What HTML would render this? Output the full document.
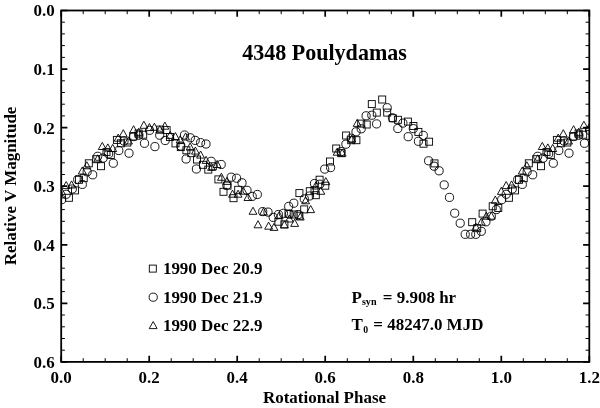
<!DOCTYPE html>
<html><head><meta charset="utf-8"><title>4348 Poulydamas</title>
<style>
html,body{margin:0;padding:0;background:#fff;}
body{width:600px;height:408px;overflow:hidden;}
svg{display:block;filter:blur(0.35px);}
text{font-family:"Liberation Serif","Times New Roman",serif;font-weight:bold;fill:#000;}
.t{font-size:17px;}
.m{fill:none;stroke:#000;stroke-width:0.9;}
</style></head><body>
<svg width="600" height="408" viewBox="0 0 600 408">
<rect width="600" height="408" fill="#fff"/>
<defs><clipPath id="c"><rect x="61.2" y="10.5" width="528.1" height="351.4"/></clipPath></defs>

<path d="M83.2 361.9v-3.7M83.2 10.5v3.7M105.2 361.9v-3.7M105.2 10.5v3.7M127.2 361.9v-3.7M127.2 10.5v3.7M171.2 361.9v-3.7M171.2 10.5v3.7M193.2 361.9v-3.7M193.2 10.5v3.7M215.2 361.9v-3.7M215.2 10.5v3.7M259.2 361.9v-3.7M259.2 10.5v3.7M281.2 361.9v-3.7M281.2 10.5v3.7M303.2 361.9v-3.7M303.2 10.5v3.7M347.3 361.9v-3.7M347.3 10.5v3.7M369.3 361.9v-3.7M369.3 10.5v3.7M391.3 361.9v-3.7M391.3 10.5v3.7M435.3 361.9v-3.7M435.3 10.5v3.7M457.3 361.9v-3.7M457.3 10.5v3.7M479.3 361.9v-3.7M479.3 10.5v3.7M523.3 361.9v-3.7M523.3 10.5v3.7M545.3 361.9v-3.7M545.3 10.5v3.7M567.3 361.9v-3.7M567.3 10.5v3.7M61.2 22.2h3.7M589.3 22.2h-3.7M61.2 33.9h3.7M589.3 33.9h-3.7M61.2 45.6h3.7M589.3 45.6h-3.7M61.2 57.4h3.7M589.3 57.4h-3.7M61.2 80.8h3.7M589.3 80.8h-3.7M61.2 92.5h3.7M589.3 92.5h-3.7M61.2 104.2h3.7M589.3 104.2h-3.7M61.2 115.9h3.7M589.3 115.9h-3.7M61.2 139.3h3.7M589.3 139.3h-3.7M61.2 151.1h3.7M589.3 151.1h-3.7M61.2 162.8h3.7M589.3 162.8h-3.7M61.2 174.5h3.7M589.3 174.5h-3.7M61.2 197.9h3.7M589.3 197.9h-3.7M61.2 209.6h3.7M589.3 209.6h-3.7M61.2 221.3h3.7M589.3 221.3h-3.7M61.2 233.1h3.7M589.3 233.1h-3.7M61.2 256.5h3.7M589.3 256.5h-3.7M61.2 268.2h3.7M589.3 268.2h-3.7M61.2 279.9h3.7M589.3 279.9h-3.7M61.2 291.6h3.7M589.3 291.6h-3.7M61.2 315.0h3.7M589.3 315.0h-3.7M61.2 326.8h3.7M589.3 326.8h-3.7M61.2 338.5h3.7M589.3 338.5h-3.7M61.2 350.2h3.7M589.3 350.2h-3.7" stroke="#000" stroke-width="1" fill="none"/>
<path d="M61.2 361.9v-6.2M61.2 10.5v6.2M149.2 361.9v-6.2M149.2 10.5v6.2M237.2 361.9v-6.2M237.2 10.5v6.2M325.2 361.9v-6.2M325.2 10.5v6.2M413.3 361.9v-6.2M413.3 10.5v6.2M501.3 361.9v-6.2M501.3 10.5v6.2M589.3 361.9v-6.2M589.3 10.5v6.2M61.2 10.5h6.2M589.3 10.5h-6.2M61.2 69.1h6.2M589.3 69.1h-6.2M61.2 127.6h6.2M589.3 127.6h-6.2M61.2 186.2h6.2M589.3 186.2h-6.2M61.2 244.8h6.2M589.3 244.8h-6.2M61.2 303.3h6.2M589.3 303.3h-6.2M61.2 361.9h6.2M589.3 361.9h-6.2" stroke="#000" stroke-width="1.7" fill="none"/>
<rect x="61.2" y="10.5" width="528.1" height="351.4" fill="none" stroke="#000" stroke-width="1.8"/>
<text transform="translate(61.2,382.6) scale(0.957,1)" text-anchor="middle" style="font-size:17.75px">0.0</text>
<text transform="translate(149.2,382.6) scale(0.957,1)" text-anchor="middle" style="font-size:17.75px">0.2</text>
<text transform="translate(237.2,382.6) scale(0.957,1)" text-anchor="middle" style="font-size:17.75px">0.4</text>
<text transform="translate(325.2,382.6) scale(0.957,1)" text-anchor="middle" style="font-size:17.75px">0.6</text>
<text transform="translate(413.3,382.6) scale(0.957,1)" text-anchor="middle" style="font-size:17.75px">0.8</text>
<text transform="translate(501.3,382.6) scale(0.957,1)" text-anchor="middle" style="font-size:17.75px">1.0</text>
<text transform="translate(589.3,382.6) scale(0.957,1)" text-anchor="middle" style="font-size:17.75px">1.2</text>
<text transform="translate(54.8,16.4) scale(0.957,1)" text-anchor="end" style="font-size:17.75px">0.0</text>
<text transform="translate(54.8,75.0) scale(0.957,1)" text-anchor="end" style="font-size:17.75px">0.1</text>
<text transform="translate(54.8,133.5) scale(0.957,1)" text-anchor="end" style="font-size:17.75px">0.2</text>
<text transform="translate(54.8,192.1) scale(0.957,1)" text-anchor="end" style="font-size:17.75px">0.3</text>
<text transform="translate(54.8,250.7) scale(0.957,1)" text-anchor="end" style="font-size:17.75px">0.4</text>
<text transform="translate(54.8,309.2) scale(0.957,1)" text-anchor="end" style="font-size:17.75px">0.5</text>
<text transform="translate(54.8,367.8) scale(0.957,1)" text-anchor="end" style="font-size:17.75px">0.6</text>
<text transform="translate(324.5,59.9) scale(0.963,1)" text-anchor="middle" style="font-size:22.9px">4348 Poulydamas</text>
<text transform="translate(324.5,403.2) scale(0.957,1)" text-anchor="middle" style="font-size:17.75px">Rotational Phase</text>
<text transform="translate(15.6,186.0) rotate(-90) scale(0.957,1)" text-anchor="middle" style="font-size:17.75px">Relative V Magnitude</text>
<text transform="translate(162.9,274.2) scale(0.957,1)" text-anchor="start" style="font-size:17.75px">1990 Dec 20.9</text>
<text transform="translate(162.9,302.6) scale(0.957,1)" text-anchor="start" style="font-size:17.75px">1990 Dec 21.9</text>
<text transform="translate(162.9,330.7) scale(0.957,1)" text-anchor="start" style="font-size:17.75px">1990 Dec 22.9</text>
<text transform="translate(351.6,302.5) scale(0.957,1)" text-anchor="start" style="font-size:17.75px">P</text><text transform="translate(361.9,304.9) scale(0.957,1)" text-anchor="start" style="font-size:10.6px">syn</text><text transform="translate(382.8,302.5) scale(0.957,1)" text-anchor="start" style="font-size:17.75px">= 9.908 hr</text>
<text transform="translate(351.6,330.4) scale(0.957,1)" text-anchor="start" style="font-size:17.75px">T</text><text transform="translate(363.3,333.2) scale(0.957,1)" text-anchor="start" style="font-size:10.2px">0</text><text transform="translate(373.3,330.4) scale(0.957,1)" text-anchor="start" style="font-size:17.75px">= 48247.0 MJD</text>
<g class="m">
<rect x="149.3" y="265.1" width="7.0" height="7.0"/>
<circle cx="153.2" cy="297.2" r="4.1"/>
<path d="M149.2 328.6L153.2 321.5L157.1 328.6Z"/>
</g>
<g class="m" clip-path="url(#c)">
<rect x="65.4" y="194.3" width="7.0" height="7.0"/>
<rect x="71.5" y="186.9" width="7.0" height="7.0"/>
<rect x="75.5" y="176.3" width="7.0" height="7.0"/>
<rect x="80.2" y="174.7" width="7.0" height="7.0"/>
<rect x="85.3" y="159.8" width="7.0" height="7.0"/>
<rect x="92.7" y="155.7" width="7.0" height="7.0"/>
<rect x="97.5" y="162.7" width="7.0" height="7.0"/>
<rect x="103.0" y="148.6" width="7.0" height="7.0"/>
<rect x="107.3" y="151.5" width="7.0" height="7.0"/>
<rect x="113.4" y="136.4" width="7.0" height="7.0"/>
<rect x="117.4" y="139.8" width="7.0" height="7.0"/>
<rect x="123.9" y="139.0" width="7.0" height="7.0"/>
<rect x="129.7" y="133.0" width="7.0" height="7.0"/>
<rect x="135.1" y="130.0" width="7.0" height="7.0"/>
<rect x="139.7" y="131.2" width="7.0" height="7.0"/>
<rect x="156.7" y="126.1" width="7.0" height="7.0"/>
<rect x="163.1" y="126.6" width="7.0" height="7.0"/>
<rect x="166.5" y="133.5" width="7.0" height="7.0"/>
<rect x="172.0" y="139.9" width="7.0" height="7.0"/>
<rect x="177.3" y="143.6" width="7.0" height="7.0"/>
<rect x="182.9" y="146.8" width="7.0" height="7.0"/>
<rect x="187.8" y="149.7" width="7.0" height="7.0"/>
<rect x="193.5" y="156.0" width="7.0" height="7.0"/>
<rect x="199.5" y="161.3" width="7.0" height="7.0"/>
<rect x="204.8" y="166.1" width="7.0" height="7.0"/>
<rect x="209.3" y="162.8" width="7.0" height="7.0"/>
<rect x="214.9" y="175.9" width="7.0" height="7.0"/>
<rect x="220.0" y="188.3" width="7.0" height="7.0"/>
<rect x="224.0" y="182.1" width="7.0" height="7.0"/>
<rect x="230.0" y="194.7" width="7.0" height="7.0"/>
<rect x="234.7" y="186.3" width="7.0" height="7.0"/>
<rect x="274.9" y="218.2" width="7.0" height="7.0"/>
<rect x="280.9" y="220.9" width="7.0" height="7.0"/>
<rect x="285.0" y="210.2" width="7.0" height="7.0"/>
<rect x="290.2" y="211.0" width="7.0" height="7.0"/>
<rect x="295.9" y="212.2" width="7.0" height="7.0"/>
<rect x="300.7" y="205.9" width="7.0" height="7.0"/>
<rect x="295.9" y="189.6" width="7.0" height="7.0"/>
<rect x="306.3" y="187.7" width="7.0" height="7.0"/>
<rect x="312.3" y="191.7" width="7.0" height="7.0"/>
<rect x="311.0" y="186.7" width="7.0" height="7.0"/>
<rect x="316.1" y="176.2" width="7.0" height="7.0"/>
<rect x="321.8" y="182.2" width="7.0" height="7.0"/>
<rect x="326.5" y="158.0" width="7.0" height="7.0"/>
<rect x="332.7" y="145.0" width="7.0" height="7.0"/>
<rect x="337.7" y="149.7" width="7.0" height="7.0"/>
<rect x="342.6" y="132.0" width="7.0" height="7.0"/>
<rect x="347.7" y="136.7" width="7.0" height="7.0"/>
<rect x="352.9" y="136.7" width="7.0" height="7.0"/>
<rect x="357.7" y="120.1" width="7.0" height="7.0"/>
<rect x="363.2" y="121.0" width="7.0" height="7.0"/>
<rect x="368.3" y="100.6" width="7.0" height="7.0"/>
<rect x="373.3" y="109.1" width="7.0" height="7.0"/>
<rect x="378.7" y="96.0" width="7.0" height="7.0"/>
<rect x="383.7" y="109.1" width="7.0" height="7.0"/>
<rect x="389.2" y="114.7" width="7.0" height="7.0"/>
<rect x="394.4" y="116.3" width="7.0" height="7.0"/>
<rect x="404.4" y="118.1" width="7.0" height="7.0"/>
<rect x="409.9" y="122.5" width="7.0" height="7.0"/>
<rect x="414.9" y="128.4" width="7.0" height="7.0"/>
<rect x="420.0" y="140.2" width="7.0" height="7.0"/>
<rect x="425.6" y="138.2" width="7.0" height="7.0"/>
<rect x="431.0" y="159.9" width="7.0" height="7.0"/>
<rect x="468.7" y="218.7" width="7.0" height="7.0"/>
<rect x="473.7" y="224.7" width="7.0" height="7.0"/>
<rect x="479.1" y="210.1" width="7.0" height="7.0"/>
<rect x="489.2" y="202.8" width="7.0" height="7.0"/>
<rect x="494.8" y="204.5" width="7.0" height="7.0"/>
<rect x="505.4" y="194.3" width="7.0" height="7.0"/>
<rect x="511.5" y="186.9" width="7.0" height="7.0"/>
<rect x="515.5" y="176.3" width="7.0" height="7.0"/>
<rect x="520.2" y="174.7" width="7.0" height="7.0"/>
<rect x="525.3" y="159.8" width="7.0" height="7.0"/>
<rect x="532.7" y="155.7" width="7.0" height="7.0"/>
<rect x="537.5" y="162.7" width="7.0" height="7.0"/>
<rect x="543.0" y="148.6" width="7.0" height="7.0"/>
<rect x="547.3" y="151.5" width="7.0" height="7.0"/>
<rect x="553.4" y="136.4" width="7.0" height="7.0"/>
<rect x="557.4" y="139.8" width="7.0" height="7.0"/>
<rect x="563.9" y="139.0" width="7.0" height="7.0"/>
<rect x="569.7" y="133.0" width="7.0" height="7.0"/>
<rect x="575.1" y="130.0" width="7.0" height="7.0"/>
<rect x="579.7" y="131.2" width="7.0" height="7.0"/>
<path d="M57.3 194.4L61.3 187.3L65.2 194.4Z"/>
<path d="M62.2 188.6L66.2 181.5L70.2 188.6Z"/>
<path d="M67.6 188.0L71.6 180.9L75.5 188.0Z"/>
<path d="M78.3 174.0L82.3 166.9L86.2 174.0Z"/>
<path d="M82.8 168.8L86.8 161.7L90.8 168.8Z"/>
<path d="M93.8 161.9L97.7 154.8L101.7 161.9Z"/>
<path d="M98.3 149.5L102.3 142.4L106.2 149.5Z"/>
<path d="M103.8 151.0L107.8 143.9L111.8 151.0Z"/>
<path d="M108.8 151.5L112.7 144.4L116.7 151.5Z"/>
<path d="M114.2 141.2L118.2 134.1L122.2 141.2Z"/>
<path d="M119.3 136.8L123.3 129.7L127.2 136.8Z"/>
<path d="M124.5 144.0L128.5 136.9L132.4 144.0Z"/>
<path d="M129.7 132.8L133.6 125.7L137.5 132.8Z"/>
<path d="M134.8 135.3L138.7 128.2L142.6 135.3Z"/>
<path d="M140.0 128.3L143.9 121.2L147.8 128.3Z"/>
<path d="M145.5 130.6L149.4 123.5L153.3 130.6Z"/>
<path d="M150.5 130.3L154.4 123.2L158.3 130.3Z"/>
<path d="M155.9 132.8L159.8 125.7L163.8 132.8Z"/>
<path d="M161.0 129.2L164.9 122.1L168.8 129.2Z"/>
<path d="M166.2 138.4L170.2 131.3L174.1 138.4Z"/>
<path d="M171.5 139.6L175.4 132.5L179.3 139.6Z"/>
<path d="M176.2 142.9L180.1 135.8L184.0 142.9Z"/>
<path d="M181.7 140.0L185.6 132.9L189.5 140.0Z"/>
<path d="M186.2 150.1L190.1 143.0L194.0 150.1Z"/>
<path d="M191.5 154.1L195.4 147.0L199.3 154.1Z"/>
<path d="M196.7 158.1L200.6 151.0L204.5 158.1Z"/>
<path d="M202.2 163.4L206.1 156.3L210.0 163.4Z"/>
<path d="M207.6 170.4L211.5 163.3L215.4 170.4Z"/>
<path d="M213.2 167.5L217.2 160.4L221.1 167.5Z"/>
<path d="M217.5 180.3L221.4 173.2L225.3 180.3Z"/>
<path d="M223.1 184.4L227.0 177.3L230.9 184.4Z"/>
<path d="M228.6 197.2L232.5 190.1L236.4 197.2Z"/>
<path d="M234.2 197.2L238.1 190.1L242.0 197.2Z"/>
<path d="M239.2 194.2L243.2 187.1L247.1 194.2Z"/>
<path d="M244.0 200.5L247.9 193.4L251.8 200.5Z"/>
<path d="M249.1 214.3L253.0 207.2L256.9 214.3Z"/>
<path d="M254.1 227.8L258.0 220.7L261.9 227.8Z"/>
<path d="M259.6 215.0L263.5 207.9L267.4 215.0Z"/>
<path d="M264.7 229.2L268.6 222.1L272.6 229.2Z"/>
<path d="M270.1 230.4L274.0 223.3L277.9 230.4Z"/>
<path d="M275.2 218.7L279.2 211.6L283.1 218.7Z"/>
<path d="M280.4 227.9L284.3 220.8L288.2 227.9Z"/>
<path d="M285.4 222.0L289.4 214.9L293.3 222.0Z"/>
<path d="M290.7 226.4L294.6 219.3L298.6 226.4Z"/>
<path d="M296.4 220.0L300.3 212.9L304.2 220.0Z"/>
<path d="M301.7 203.8L305.6 196.7L309.6 203.8Z"/>
<path d="M306.8 212.6L310.7 205.5L314.6 212.6Z"/>
<path d="M311.9 189.0L315.8 181.9L319.8 189.0Z"/>
<path d="M316.9 194.3L320.8 187.2L324.8 194.3Z"/>
<path d="M321.9 184.7L325.8 177.6L329.8 184.7Z"/>
<path d="M333.2 155.2L337.2 148.1L341.1 155.2Z"/>
<path d="M338.2 156.2L342.2 149.1L346.1 156.2Z"/>
<path d="M347.9 142.1L351.9 135.0L355.8 142.1Z"/>
<path d="M353.2 126.4L357.2 119.3L361.1 126.4Z"/>
<path d="M471.9 230.2L475.8 223.1L479.8 230.2Z"/>
<path d="M477.4 225.2L481.3 218.1L485.2 225.2Z"/>
<path d="M482.4 219.2L486.3 212.1L490.2 219.2Z"/>
<path d="M487.4 219.2L491.3 212.1L495.2 219.2Z"/>
<path d="M491.4 203.2L495.3 196.1L499.2 203.2Z"/>
<path d="M497.4 194.4L501.3 187.3L505.2 194.4Z"/>
<path d="M502.2 188.6L506.2 181.5L510.1 188.6Z"/>
<path d="M507.7 188.0L511.6 180.9L515.6 188.0Z"/>
<path d="M518.3 174.0L522.3 166.9L526.2 174.0Z"/>
<path d="M522.8 168.8L526.8 161.7L530.8 168.8Z"/>
<path d="M533.8 161.9L537.7 154.8L541.7 161.9Z"/>
<path d="M538.3 149.5L542.3 142.4L546.2 149.5Z"/>
<path d="M543.8 151.0L547.8 143.9L551.8 151.0Z"/>
<path d="M548.8 151.5L552.7 144.4L556.7 151.5Z"/>
<path d="M554.2 141.2L558.2 134.1L562.2 141.2Z"/>
<path d="M559.3 136.8L563.3 129.7L567.2 136.8Z"/>
<path d="M564.5 144.0L568.5 136.9L572.5 144.0Z"/>
<path d="M569.6 132.8L573.6 125.7L577.6 132.8Z"/>
<path d="M574.8 135.3L578.7 128.2L582.7 135.3Z"/>
<path d="M579.9 128.3L583.9 121.2L587.9 128.3Z"/>
<path d="M585.4 130.6L589.4 123.5L593.4 130.6Z"/>
<circle cx="61.7" cy="199.6" r="4.1"/>
<circle cx="66.2" cy="194.3" r="4.1"/>
<circle cx="72.3" cy="189.0" r="4.1"/>
<circle cx="77.7" cy="179.5" r="4.1"/>
<circle cx="82.3" cy="184.4" r="4.1"/>
<circle cx="87.1" cy="171.8" r="4.1"/>
<circle cx="92.7" cy="174.8" r="4.1"/>
<circle cx="97.7" cy="156.3" r="4.1"/>
<circle cx="103.1" cy="158.1" r="4.1"/>
<circle cx="108.6" cy="153.9" r="4.1"/>
<circle cx="113.3" cy="163.2" r="4.1"/>
<circle cx="118.8" cy="150.5" r="4.1"/>
<circle cx="124.0" cy="141.0" r="4.1"/>
<circle cx="129.0" cy="153.2" r="4.1"/>
<circle cx="133.5" cy="136.6" r="4.1"/>
<circle cx="138.9" cy="135.2" r="4.1"/>
<circle cx="144.5" cy="143.3" r="4.1"/>
<circle cx="149.6" cy="130.3" r="4.1"/>
<circle cx="154.9" cy="146.6" r="4.1"/>
<circle cx="159.7" cy="135.2" r="4.1"/>
<circle cx="165.2" cy="140.5" r="4.1"/>
<circle cx="180.8" cy="146.0" r="4.1"/>
<circle cx="184.5" cy="135.0" r="4.1"/>
<circle cx="190.3" cy="137.8" r="4.1"/>
<circle cx="195.2" cy="140.4" r="4.1"/>
<circle cx="200.6" cy="142.6" r="4.1"/>
<circle cx="206.0" cy="144.0" r="4.1"/>
<circle cx="186.1" cy="159.0" r="4.1"/>
<circle cx="196.4" cy="169.0" r="4.1"/>
<circle cx="211.2" cy="161.3" r="4.1"/>
<circle cx="221.2" cy="164.5" r="4.1"/>
<circle cx="226.8" cy="185.2" r="4.1"/>
<circle cx="231.2" cy="177.2" r="4.1"/>
<circle cx="236.6" cy="178.2" r="4.1"/>
<circle cx="242.0" cy="182.8" r="4.1"/>
<circle cx="247.0" cy="190.3" r="4.1"/>
<circle cx="252.2" cy="196.4" r="4.1"/>
<circle cx="257.3" cy="194.5" r="4.1"/>
<circle cx="262.7" cy="211.6" r="4.1"/>
<circle cx="268.0" cy="212.1" r="4.1"/>
<circle cx="273.2" cy="217.4" r="4.1"/>
<circle cx="278.4" cy="214.5" r="4.1"/>
<circle cx="283.4" cy="213.3" r="4.1"/>
<circle cx="288.7" cy="206.4" r="4.1"/>
<circle cx="289.4" cy="214.2" r="4.1"/>
<circle cx="293.8" cy="203.2" r="4.1"/>
<circle cx="298.2" cy="214.5" r="4.1"/>
<circle cx="304.3" cy="198.9" r="4.1"/>
<circle cx="309.5" cy="196.0" r="4.1"/>
<circle cx="314.5" cy="183.5" r="4.1"/>
<circle cx="319.8" cy="184.2" r="4.1"/>
<circle cx="324.7" cy="169.1" r="4.1"/>
<circle cx="330.6" cy="167.6" r="4.1"/>
<circle cx="341.1" cy="151.6" r="4.1"/>
<circle cx="345.9" cy="144.2" r="4.1"/>
<circle cx="351.2" cy="138.2" r="4.1"/>
<circle cx="356.0" cy="131.8" r="4.1"/>
<circle cx="361.2" cy="128.8" r="4.1"/>
<circle cx="366.1" cy="115.8" r="4.1"/>
<circle cx="371.8" cy="115.2" r="4.1"/>
<circle cx="376.6" cy="123.9" r="4.1"/>
<circle cx="387.2" cy="107.7" r="4.1"/>
<circle cx="392.4" cy="117.8" r="4.1"/>
<circle cx="397.8" cy="128.5" r="4.1"/>
<circle cx="402.9" cy="123.1" r="4.1"/>
<circle cx="408.2" cy="136.7" r="4.1"/>
<circle cx="413.3" cy="128.6" r="4.1"/>
<circle cx="418.4" cy="141.3" r="4.1"/>
<circle cx="423.3" cy="135.4" r="4.1"/>
<circle cx="428.6" cy="160.8" r="4.1"/>
<circle cx="434.1" cy="166.2" r="4.1"/>
<circle cx="439.1" cy="170.8" r="4.1"/>
<circle cx="444.2" cy="184.9" r="4.1"/>
<circle cx="449.5" cy="197.4" r="4.1"/>
<circle cx="454.7" cy="213.2" r="4.1"/>
<circle cx="460.2" cy="223.2" r="4.1"/>
<circle cx="465.2" cy="234.3" r="4.1"/>
<circle cx="470.6" cy="234.3" r="4.1"/>
<circle cx="475.8" cy="234.3" r="4.1"/>
<circle cx="481.3" cy="231.3" r="4.1"/>
<circle cx="485.9" cy="221.8" r="4.1"/>
<circle cx="491.3" cy="216.2" r="4.1"/>
<circle cx="496.3" cy="209.6" r="4.1"/>
<circle cx="501.7" cy="199.6" r="4.1"/>
<circle cx="506.2" cy="194.3" r="4.1"/>
<circle cx="512.3" cy="189.0" r="4.1"/>
<circle cx="517.7" cy="179.5" r="4.1"/>
<circle cx="522.3" cy="184.4" r="4.1"/>
<circle cx="527.1" cy="171.8" r="4.1"/>
<circle cx="532.7" cy="174.8" r="4.1"/>
<circle cx="537.7" cy="156.3" r="4.1"/>
<circle cx="543.1" cy="158.1" r="4.1"/>
<circle cx="548.6" cy="153.9" r="4.1"/>
<circle cx="553.3" cy="163.2" r="4.1"/>
<circle cx="558.8" cy="150.5" r="4.1"/>
<circle cx="564.0" cy="141.0" r="4.1"/>
<circle cx="569.0" cy="153.2" r="4.1"/>
<circle cx="573.5" cy="136.6" r="4.1"/>
<circle cx="578.9" cy="135.2" r="4.1"/>
<circle cx="584.5" cy="143.3" r="4.1"/>
<circle cx="589.6" cy="130.3" r="4.1"/>
</g>
</svg></body></html>
